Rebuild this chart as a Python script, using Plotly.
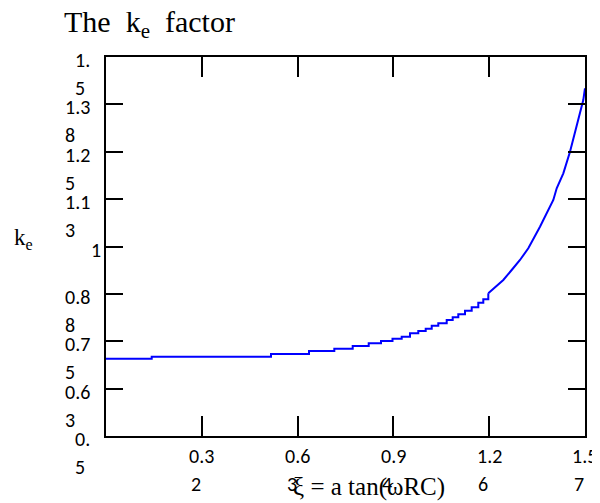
import math
import plotly.graph_objects as go

# ---- data ----
xi = [0.0, 0.1499, 0.5411, 0.6657, 0.7487, 0.8090, 0.8615, 0.9018, 0.9395, 0.9697,
      0.9969, 1.0241, 1.0484, 1.0681, 1.0897, 1.1173, 1.1369, 1.1553, 1.1773, 1.1992,
      1.2209, 1.2373, 1.2537, 1.2724, 1.3029, 1.3304, 1.3576, 1.3849, 1.4068, 1.4232,
      1.4341, 1.4669, 1.4780, 1.4997, 1.5216, 1.5380, 1.5544, 1.5652, 1.5707]
ke = [0.7040, 0.7092, 0.7164, 0.7243, 0.7303, 0.7375, 0.7446, 0.7507, 0.7565, 0.7620,
      0.7710, 0.7770, 0.7831, 0.7910, 0.7974, 0.8061, 0.8132, 0.8211, 0.8306, 0.8396,
      0.8517, 0.8607, 0.8765, 0.8897, 0.9116, 0.9380, 0.9644, 0.9953, 1.0259, 1.0522,
      1.0699, 1.1227, 1.1536, 1.1931, 1.2501, 1.2987, 1.3515, 1.3865, 1.4174]

x_tick_vals = [0.3142, 0.6283, 0.9425, 1.2566, 1.5707]
x_tick_labels = ["0.32", "0.63", "0.94", "1.26", "1.57"]
y_tick_vals = [0.5, 0.625, 0.75, 0.875, 1.0, 1.125, 1.25, 1.375, 1.5]
y_tick_labels = ["0.5", "0.63", "0.75", "0.88", "1", "1.13", "1.25", "1.38", "1.5"]

title_text = "The\u00a0 k<sub>e</sub>\u00a0 factor"
x_title = "ξ\u00a0=\u00a0a tan(ωRC)"
y_title = "k<sub>e</sub>"

# ---- layout (page pixels; the page body has an 8px margin) ----
OFF = 8
PL, PR, PT, PB = 106, 585, 57, 436          # plot area in page pixels
PW, PH = PR - PL, PB - PT
W, H = 600 - OFF, 503 - OFF
TICK_FONT = dict(family="Carlito, Calibri, Lato, sans-serif", size=20, color="black")
SERIF = "Liberation Serif, Times New Roman, serif"
SPLIT = 22   # fine stair steps beyond this point are drawn as a jagged line


def px_x(px):
    return (px - PL) / PW


def px_y(py):
    return (PB - py) / PH


fig = go.Figure()
line_style = dict(color="#0000ff", width=2)
fig.add_trace(go.Scatter(x=xi[:SPLIT + 1], y=ke[:SPLIT + 1], mode="lines",
                         line=dict(shape="hv", **line_style), hoverinfo="skip", showlegend=False))
fig.add_trace(go.Scatter(x=xi[SPLIT:], y=ke[SPLIT:], mode="lines",
                         line=dict(shape="linear", **line_style), hoverinfo="skip", showlegend=False))

axis_common = dict(showline=True, linecolor="black", linewidth=2, mirror="ticks",
                   ticks="inside", tickcolor="black", tickwidth=2, showgrid=False,
                   zeroline=False, showticklabels=False)
fig.update_xaxes(range=[0, math.pi / 2], tickmode="array", tickvals=x_tick_vals, ticklen=20,
                 **axis_common)
fig.update_yaxes(range=[0.5, 1.5], tickmode="array", tickvals=y_tick_vals, ticklen=17,
                 **axis_common)


def est_width(s):
    return sum(6 if c == "." else 10 for c in s)


ann = []
# y tick labels (wrapped, left aligned lines, block right edge at 99px)
for v, lab in zip(y_tick_vals, y_tick_labels):
    lines = [lab[:-1], lab[-1]] if len(lab) > 1 else [lab]
    left_px = 99 - est_width(lab)
    for i, ln in enumerate(lines):
        ann.append(dict(x=px_x(left_px), xref="paper", y=v, yref="y", text=ln,
                        xanchor="left", yanchor="middle", yshift=-3 - 28 * i,
                        showarrow=False, font=TICK_FONT))
# x tick labels
for v, lab in zip(x_tick_vals, x_tick_labels):
    first, second = lab[:-1], lab[-1]
    ann.append(dict(x=v, xref="x", y=0, yref="paper", text=first, xanchor="center",
                    yanchor="middle", yshift=-20, showarrow=False, font=TICK_FONT))
    ann.append(dict(x=v, xref="x", y=0, yref="paper", text=second, xanchor="left",
                    xshift=-est_width(first) / 2, yanchor="middle", yshift=-48,
                    showarrow=False, font=TICK_FONT))

# title
ann.append(dict(x=px_x(62), xref="paper", y=px_y(24), yref="paper",
                text=title_text, xanchor="left", yanchor="middle", showarrow=False,
                font=dict(family=SERIF, size=30, color="black")))
# y axis title
ann.append(dict(x=px_x(12), xref="paper", y=1.0, yref="y", text=y_title,
                xanchor="left", yanchor="middle", yshift=8, showarrow=False,
                font=dict(family=SERIF, size=23, color="black")))
# x axis title
ann.append(dict(x=px_x(369), xref="paper", y=px_y(487), yref="paper",
                text=x_title, xanchor="center", yanchor="middle", showarrow=False,
                font=dict(family=SERIF, size=25, color="black")))

fig.update_layout(width=W, height=H,
                  margin=dict(l=PL - OFF, r=W - (PR - OFF), t=PT - OFF, b=H - (PB - OFF), pad=0),
                  paper_bgcolor="white", plot_bgcolor="white", annotations=ann,
                  showlegend=False)

fig.write_html("out.html")
